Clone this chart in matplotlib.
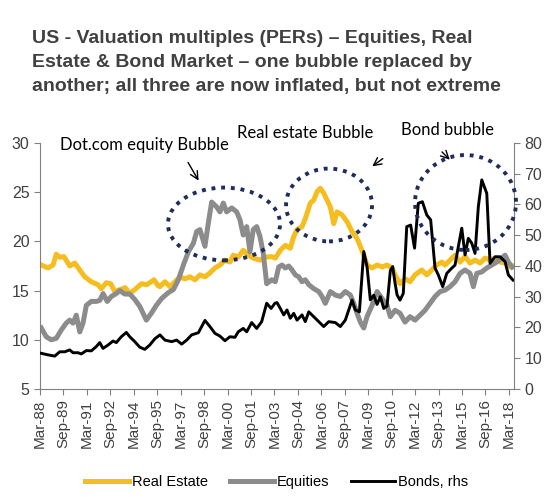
import numpy as np
import matplotlib.pyplot as plt
from matplotlib.patches import Ellipse

# data (x in decimal years)
re_x = [1988.25, 1988.68, 1989.00, 1989.21, 1989.43, 1989.70, 1990.07, 1990.39, 1990.71, 1991.03,
        1991.45, 1991.88, 1992.09, 1992.41, 1992.69, 1992.95, 1993.27, 1993.62, 1993.91, 1994.23,
        1994.65, 1994.97, 1995.19, 1995.46, 1995.72, 1995.84, 1996.16, 1996.48, 1996.80, 1997.12,
        1997.44, 1997.76, 1998.08, 1998.40, 1998.72, 1999.04, 1999.36, 1999.68, 2000.00, 2000.32,
        2000.53, 2000.85, 2001.17, 2001.49, 2001.81, 2002.24, 2002.56, 2003.01, 2003.22, 2003.54,
        2003.86, 2004.18, 2004.40, 2004.61, 2004.93, 2005.14, 2005.46, 2005.68, 2005.89, 2006.10,
        2006.32, 2006.53, 2006.74, 2006.96, 2007.17, 2007.49, 2007.81, 2008.13, 2008.45, 2008.66,
        2008.88, 2009.09, 2009.41, 2009.73, 2010.05, 2010.37, 2010.69, 2010.88, 2011.20, 2011.52,
        2011.84, 2012.16, 2012.59, 2012.91, 2013.23, 2013.55, 2013.87, 2014.08, 2014.40, 2014.72,
        2015.04, 2015.36, 2015.68, 2016.00, 2016.32, 2016.64, 2016.96, 2017.28, 2017.60, 2017.92,
        2018.24, 2018.43]
re_y = [17.6, 17.3, 17.6, 18.7, 18.4, 18.45, 17.5, 17.8, 17.1, 16.4,
        15.9, 15.6, 15.2, 15.8, 15.7, 14.9, 15.1, 15.3, 14.7, 15.1,
        15.7, 15.6, 15.8, 16.1, 15.5, 15.4, 15.9, 15.4, 15.9, 16.4,
        16.2, 16.4, 16.1, 16.6, 16.4, 16.8, 17.3, 17.6, 18.1, 17.9,
        18.6, 18.4, 19.1, 18.6, 18.3, 18.1, 18.4, 18.45, 18.3, 19.1,
        19.6, 19.3, 20.5, 21.2, 21.5, 22.3, 23.9, 24.2, 25.05, 25.4,
        24.9, 24.2, 23.5, 21.8, 23.0, 22.7, 22.0, 21.0, 20.3, 19.5,
        18.6, 17.6, 17.3, 17.6, 17.4, 17.6, 17.3, 16.6, 15.7, 16.2,
        15.9, 16.6, 17.1, 16.6, 17.1, 17.6, 17.9, 17.6, 18.1, 18.6,
        17.9, 18.45, 17.8, 18.1, 17.8, 18.3, 18.1, 18.3, 17.9, 17.8,
        17.4, 17.5]

eq_x = [1988.25, 1988.57, 1988.89, 1989.21, 1989.53, 1989.85, 1990.07, 1990.28, 1990.49, 1990.71,
        1990.92, 1991.13, 1991.45, 1991.77, 1991.99, 1992.20, 1992.47, 1992.73, 1993.05, 1993.27,
        1993.59, 1993.91, 1994.23, 1994.55, 1994.76, 1994.97, 1995.29, 1995.61, 1995.95, 1996.38,
        1996.70, 1997.02, 1997.34, 1997.66, 1997.98, 1998.19, 1998.40, 1998.72, 1998.93, 1999.15,
        1999.47, 1999.68, 1999.89, 2000.11, 2000.43, 2000.75, 2000.96, 2001.17, 2001.39, 2001.60,
        2001.81, 2002.03, 2002.24, 2002.45, 2002.67, 2002.99, 2003.22, 2003.44, 2003.65, 2003.86,
        2004.08, 2004.29, 2004.50, 2004.72, 2004.93, 2005.14, 2005.36, 2005.68, 2006.00, 2006.21,
        2006.42, 2006.74, 2007.06, 2007.38, 2007.70, 2008.02, 2008.24, 2008.45, 2008.66, 2008.88,
        2009.09, 2009.41, 2009.73, 2010.05, 2010.37, 2010.58, 2010.88, 2011.20, 2011.52, 2011.84,
        2012.16, 2012.48, 2012.80, 2013.12, 2013.44, 2013.76, 2014.08, 2014.40, 2014.72, 2015.04,
        2015.36, 2015.68, 2015.89, 2016.11, 2016.43, 2016.75, 2017.07, 2017.39, 2017.71, 2017.92,
        2018.13, 2018.37]
eq_y = [11.2, 10.3, 10.0, 10.15, 11.0, 11.7, 12.0, 11.7, 12.5, 10.8,
        11.7, 13.5, 13.9, 13.9, 14.0, 14.7, 13.9, 14.4, 14.7, 15.0,
        14.65, 14.65, 14.1, 13.4, 12.7, 12.0, 12.7, 13.5, 14.2, 14.8,
        15.1, 16.1, 17.6, 18.95, 19.8, 21.0, 21.2, 19.5, 21.8, 24.0,
        23.5, 23.0, 23.9, 23.0, 23.4, 23.0, 22.2, 20.65, 21.5, 18.95,
        21.2, 21.5, 20.5, 18.8, 15.7, 16.1, 15.9, 17.4, 17.6, 17.3,
        17.5, 17.1, 16.6, 16.4, 15.9, 16.1, 15.6, 15.2, 14.9, 14.4,
        13.7, 14.9, 14.55, 14.4, 14.9, 14.55, 13.7, 12.7, 11.8, 11.2,
        12.35, 13.5, 14.9, 14.2, 13.5, 12.35, 13.0, 12.7, 11.8, 12.35,
        12.0, 12.5, 13.0, 13.7, 14.4, 14.9, 15.05, 15.4, 15.9, 16.75,
        17.1, 16.75, 15.4, 16.75, 16.9, 17.3, 17.6, 17.9, 18.3, 18.6,
        17.9, 17.4]

bd_x = [1988.25, 1988.68, 1989.11, 1989.43, 1989.75, 1990.07, 1990.28, 1990.60, 1990.81, 1991.13,
        1991.45, 1991.77, 1991.99, 1992.20, 1992.52, 1992.84, 1993.05, 1993.37, 1993.69, 1993.91,
        1994.23, 1994.55, 1994.87, 1995.19, 1995.51, 1995.84, 1996.16, 1996.59, 1996.91, 1997.23,
        1997.55, 1997.87, 1998.30, 1998.72, 1999.04, 1999.36, 1999.68, 2000.00, 2000.32, 2000.64,
        2000.85, 2001.17, 2001.39, 2001.71, 2002.03, 2002.35, 2002.67, 2002.95, 2003.20, 2003.33,
        2003.54, 2003.76, 2003.97, 2004.18, 2004.40, 2004.61, 2004.93, 2005.14, 2005.36, 2005.68,
        2006.00, 2006.32, 2006.64, 2007.06, 2007.38, 2007.70, 2008.13, 2008.34, 2008.60, 2008.88,
        2009.09, 2009.30, 2009.52, 2009.73, 2009.94, 2010.16, 2010.37, 2010.58, 2010.73, 2010.88,
        2011.01, 2011.20, 2011.41, 2011.63, 2011.88, 2012.13, 2012.37, 2012.63, 2012.91, 2013.16,
        2013.44, 2013.65, 2013.93, 2014.19, 2014.51, 2014.72, 2014.93, 2015.15, 2015.36, 2015.57,
        2015.79, 2016.00, 2016.21, 2016.43, 2016.75, 2016.96, 2017.28, 2017.60, 2017.92, 2018.13,
        2018.43]
bd_y = [11.6, 11.1, 10.7, 12.1, 12.1, 12.7, 11.8, 11.8, 11.4, 12.5,
        12.4, 13.8, 15.1, 13.2, 14.3, 15.6, 15.1, 17.0, 18.4, 17.0,
        15.4, 13.6, 12.9, 14.3, 16.3, 17.6, 15.9, 15.4, 15.9, 14.6,
        15.9, 17.6, 18.3, 22.3, 20.3, 18.1, 17.2, 15.7, 17.0, 16.8,
        18.6, 19.7, 18.6, 21.6, 19.7, 21.9, 27.9, 26.2, 27.9, 28.1,
        26.2, 24.1, 25.7, 23.0, 24.6, 22.4, 24.1, 21.9, 25.1, 23.5,
        21.9, 20.3, 21.9, 21.6, 20.3, 22.4, 28.9, 25.7, 25.1, 44.7,
        39.8, 29.0, 30.5, 27.5, 30.0, 26.2, 27.0, 38.5, 39.8, 34.5,
        30.6, 28.9, 31.1, 52.8, 53.3, 45.8, 60.4, 60.9, 56.6, 55.0,
        39.3, 37.1, 33.3, 37.6, 39.3, 40.3, 46.3, 52.3, 43.6, 49.0,
        47.4, 44.1, 59.3, 68.0, 63.6, 40.9, 43.0, 43.0, 41.4, 37.1,
        35.4]

tick_labels = ['Mar-88', 'Sep-89', 'Mar-91', 'Sep-92', 'Mar-94', 'Sep-95', 'Mar-97',
               'Sep-98', 'Mar-00', 'Sep-01', 'Mar-03', 'Sep-04', 'Mar-06', 'Sep-07',
               'Mar-09', 'Sep-10', 'Mar-12', 'Sep-13', 'Mar-15', 'Sep-16', 'Mar-18']
tick_pos = 1988 + 2/12 + 1.5*np.arange(len(tick_labels))

title = ("US - Valuation multiples (PERs) \u2013 Equities, Real\n"
         "Estate & Bond Market \u2013 one bubble replaced by\n"
         "another; all three are now inflated, but not extreme")

plt.rcParams['font.family'] = ['Liberation Sans', 'DejaVu Sans']
grey = '#808080'
txt = '#404040'
navy = '#1f2d5a'

fig = plt.figure(figsize=(5.5, 4.97), dpi=100)
ax = fig.add_axes([0.0727, 0.2173, 0.8618, 0.495])
ax2 = ax.twinx()

l1, = ax.plot(re_x, re_y, color='#f5bd1f', lw=3.6, solid_joinstyle='round', label='Real Estate')
l2, = ax.plot(eq_x, eq_y, color='#8c8c8c', lw=3.6, solid_joinstyle='round', label='Equities')
l3, = ax2.plot(bd_x, bd_y, color='black', lw=2.1, solid_joinstyle='round', label='Bonds, rhs')

ax.set_xlim(tick_pos[0], 2018.49)
ax.set_ylim(5, 30)
ax2.set_ylim(0, 80)
ax.set_yticks(range(5, 31, 5))
ax2.set_yticks(range(0, 81, 10))
ax.set_xticks(tick_pos)
ax.set_xticklabels(tick_labels, rotation=90)

for a in (ax, ax2):
    for s in a.spines.values():
        s.set_color(grey)
    a.spines['top'].set_visible(False)
    a.tick_params(colors=grey, labelcolor=txt, labelsize=11.5, length=4)
ax.tick_params(axis='x', labelsize=11)
ax2.spines['left'].set_visible(False)
ax2.spines['bottom'].set_visible(False)
ax.spines['right'].set_visible(False)

# bubble ellipses
for cx, cy, w, h in [(1999.94, 21.77, 7.17, 7.4), (2006.66, 23.70, 5.50, 7.4), (2015.39, 23.95, 6.46, 9.65)]:
    e = Ellipse((cx, cy), w, h, transform=ax.transData, fill=False, edgecolor=navy,
                lw=2.8, linestyle=(0, (1, 1.5)), clip_on=False, zorder=5)
    ax2.add_patch(e)

ann_font = dict(family=['Lato', 'DejaVu Sans'], fontsize=12, color='black')
ax.text(1994.88, 29.8, 'Dot.com equity Bubble', ha='center', va='center', clip_on=False, **ann_font)
ax.text(2005.15, 31.0, 'Real estate Bubble', ha='center', va='center', clip_on=False, **ann_font)
ax.text(2014.24, 31.3, 'Bond bubble', ha='center', va='center', clip_on=False, **ann_font)

arr = dict(arrowstyle='->', color='black', lw=1, mutation_scale=14)
ax.annotate('', xy=(1998.40, 25.93), xytext=(1997.55, 28.27), arrowprops=arr, annotation_clip=False)
ax.annotate('', xy=(2009.28, 27.46), xytext=(2010.24, 28.58), arrowprops=arr, annotation_clip=False)
ax.annotate('', xy=(2014.51, 28.1), xytext=(2013.76, 29.29), arrowprops=arr, annotation_clip=False)

fig.text(0.059, 0.94, title, ha='left', va='top', fontsize=14, fontweight='bold',
         color=txt, linespacing=1.56)

fig.legend(handles=[l1, l2, l3], loc='center', bbox_to_anchor=(0.503, 0.03), ncol=3,
           frameon=False, fontsize=10.5, handlelength=3.0, handletextpad=0.2, columnspacing=1.5)

fig.savefig('out.png', dpi=100)
